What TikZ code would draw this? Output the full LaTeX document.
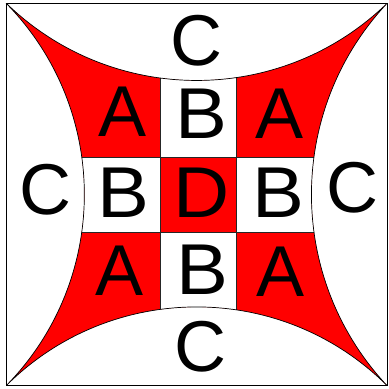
\documentclass[tikz,border=0pt]{standalone}
\usepackage{fontspec}
\setmainfont{Liberation Sans}
\begin{document}
\begin{tikzpicture}[x=1pt,y=1pt,
  lbl/.style={inner sep=0pt,font=\fontsize{72}{86}\selectfont},
  wide/.style={lbl,xscale=1.08,transform shape},
  gridline/.style={draw=black!85,line width=0.6pt},
  edge/.style={draw=black,line width=0.7pt}]
\useasboundingbox (0,0) rectangle (389,389);
\coordinate (TL) at (6.5,385.5);
\coordinate (TR) at (387,385.5);
\coordinate (BR) at (387,3.5);
\coordinate (BL) at (6.5,3.5);
\def\redpath{(TL) arc[start angle=225.94,end angle=314.06,radius=273.53pt]
  arc[start angle=136.87,end angle=223.13,radius=279.35pt]
  arc[start angle=45.15,end angle=134.85,radius=269.79pt]
  arc[start angle=-44.42,end angle=44.42,radius=272.85pt] -- cycle}
\fill[red] \redpath;
\begin{scope}
  \clip \redpath;
  \fill[white] (160.5,232) rectangle (236.5,400);
  \fill[white] (0,156.5) rectangle (160.5,232);
  \fill[white] (236.5,156.5) rectangle (400,232);
  \fill[white] (160.5,0) rectangle (236.5,156.5);
  \draw[gridline] (160.5,0) -- (160.5,389);
  \draw[gridline] (236.5,0) -- (236.5,389);
  \draw[gridline] (0,156.5) -- (389,156.5);
  \draw[gridline] (0,232) -- (389,232);
\end{scope}
\draw[edge] \redpath;
\draw[edge] (BL) rectangle (TR);
\node[lbl] (ct) at (196.5,348.5) {C};
\node[lbl] (cl) at (45.5,199.5) {C};
\node[lbl] (cr) at (352,201) {C};
\node[lbl] (cb) at (200,42) {C};
\node[lbl] (a1) at (122.5,277) {A};
\node[wide] (b1) at (201.5,275) {B};
\node[lbl] (a2) at (280,275) {A};
\node[wide] (b2) at (123.5,196) {B};
\node[wide] (d) at (201.5,196) {D};
\node[wide] (b3) at (278.5,196) {B};
\node[lbl] (a3) at (120,118) {A};
\node[wide] (b4) at (202.5,119) {B};
\node[lbl] (a4) at (281,117) {A};
\end{tikzpicture}
\end{document}
